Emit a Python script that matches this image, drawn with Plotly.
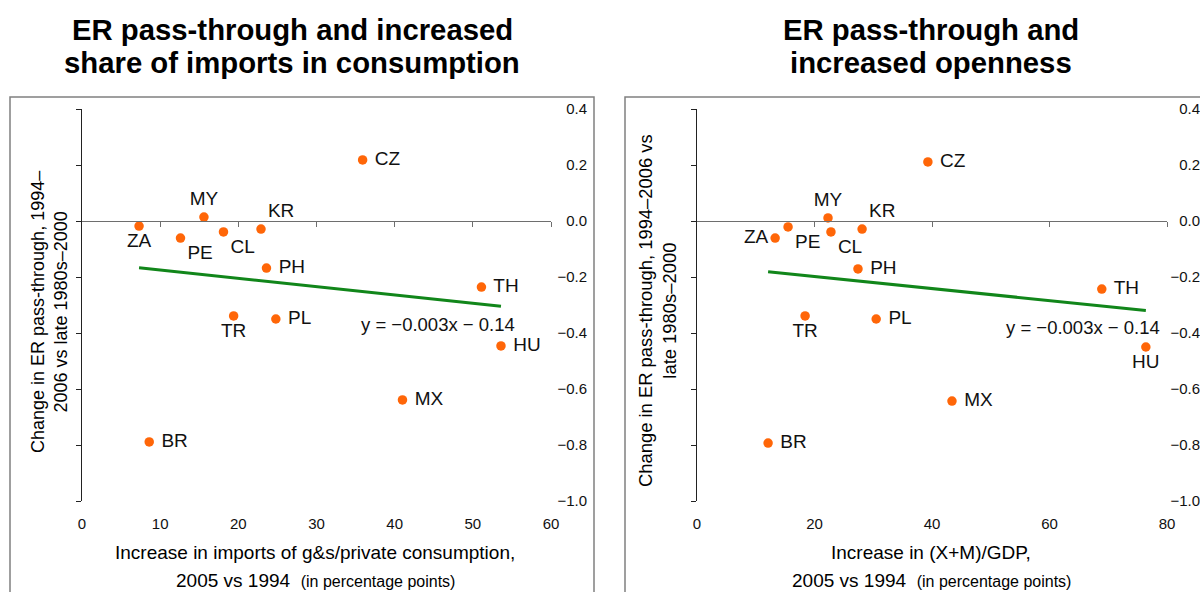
import numpy as np
import plotly.graph_objects as go

# ---------------- data ----------------
countries = ["ZA", "PE", "MY", "CL", "KR", "PH", "CZ", "TR", "PL", "TH", "HU", "MX", "BR"]

# Left panel: increase in imports of g&s / private consumption (pp)
imports_share_incr = [7.3, 12.6, 15.6, 18.1, 22.9, 23.6, 35.9, 19.4, 24.8, 51.1, 53.6, 41.0, 8.6]
passthrough_chg_left = [-0.018, -0.061, 0.014, -0.039, -0.029, -0.168, 0.218,
                        -0.339, -0.350, -0.236, -0.446, -0.639, -0.789]

# Right panel: increase in (X+M)/GDP (pp)
openness_incr = [13.3, 15.5, 22.3, 22.8, 28.1, 27.4, 39.3, 18.4, 30.5, 68.9, 76.4, 43.4, 12.1]
passthrough_chg_right = [-0.061, -0.021, 0.011, -0.039, -0.029, -0.171, 0.211,
                         -0.339, -0.350, -0.243, -0.450, -0.643, -0.793]

x_ticks_left = [0, 10, 20, 30, 40, 50, 60]
x_ticks_right = [0, 20, 40, 60, 80]
y_ticks = [0.4, 0.2, 0.0, -0.2, -0.4, -0.6, -0.8, -1.0]
y_tick_labels = ["0.4", "0.2", "0.0", "\u22120.2", "\u22120.4", "\u22120.6", "\u22120.8", "\u22121.0"]
equation_text = "y = \u22120.003x \u2212 0.14"

# label placement per point
left_textpos = ["bottom center", "bottom right", "top center", "bottom right", "top right",
                "middle right", "middle right", "bottom center", "middle right", "middle right",
                "middle right", "middle right", "middle right"]
right_textpos = ["middle left", "bottom right", "top center", "bottom right", "top right",
                 "middle right", "middle right", "bottom center", "middle right", "middle right",
                 "bottom center", "middle right", "middle right"]

# ---------------- styling ----------------
W, H = 1200, 592
FONT = "Liberation Sans, Arial, sans-serif"
ORANGE = "#ff6608"
GREEN = "#11861a"


def px(x):
    return x / W


def py(y):
    return 1 - y / H


L_dom = [px(82), px(551)]
R_dom = [px(697), px(1167)]
Y_dom = [py(501), py(109)]
Y_range = [-1.0, 0.4]
zero_pos = Y_dom[0] + (0 - Y_range[0]) / (Y_range[1] - Y_range[0]) * (Y_dom[1] - Y_dom[0])


def labels(pos_list):
    return [(" " + c if p.startswith("middle right") else c) for c, p in zip(countries, pos_list)]


fig = go.Figure()

# left scatter
fig.add_trace(go.Scatter(
    x=imports_share_incr, y=passthrough_chg_left, text=labels(left_textpos),
    mode="markers+text", textposition=left_textpos,
    marker=dict(color=ORANGE, size=9.5),
    textfont=dict(family=FONT, size=19, color="#111"),
    xaxis="x", yaxis="y", cliponaxis=False, hoverinfo="skip"))

# left trend (OLS fit on the data)
cL = np.polyfit(imports_share_incr, passthrough_chg_left, 1)
xL = np.array([min(imports_share_incr), max(imports_share_incr)])
fig.add_trace(go.Scatter(x=xL, y=np.polyval(cL, xL), mode="lines",
                         line=dict(color=GREEN, width=3), xaxis="x2", yaxis="y2",
                         hoverinfo="skip"))

# right scatter
fig.add_trace(go.Scatter(
    x=openness_incr, y=passthrough_chg_right, text=labels(right_textpos),
    mode="markers+text", textposition=right_textpos,
    marker=dict(color=ORANGE, size=9.5),
    textfont=dict(family=FONT, size=19, color="#111"),
    xaxis="x3", yaxis="y3", cliponaxis=False, hoverinfo="skip"))

cR = np.polyfit(openness_incr, passthrough_chg_right, 1)
xR = np.array([min(openness_incr), max(openness_incr)])
fig.add_trace(go.Scatter(x=xR, y=np.polyval(cR, xR), mode="lines",
                         line=dict(color=GREEN, width=3), xaxis="x4", yaxis="y4",
                         hoverinfo="skip"))

tickfont = dict(family=FONT, size=15, color="#111")
common_off = dict(showgrid=False, zeroline=False, automargin=False)


def label_xaxis(dom, rng, ticks, anchor):
    return dict(domain=dom, range=rng, anchor=anchor, showline=False, ticks="",
                tickvals=ticks, tickfont=tickfont, ticklabelstandoff=12, **common_off)


def zero_xaxis(dom, rng, ticks, base):
    return dict(domain=dom, range=rng, overlaying=base, anchor="free", position=zero_pos,
                showline=True, linecolor="#6e6e6e", linewidth=1, ticks="outside", ticklen=5,
                tickcolor="#6e6e6e", tickvals=ticks[1:], showticklabels=False, **common_off)


def line_yaxis(anchor):
    return dict(domain=Y_dom, range=Y_range, anchor=anchor, showline=True, linecolor="#222",
                linewidth=1, ticks="outside", ticklen=5, tickcolor="#222", tickvals=y_ticks,
                showticklabels=False, **common_off)


def label_yaxis(base, pos):
    return dict(domain=Y_dom, range=Y_range, overlaying=base, anchor="free", position=pos,
                side="left", showline=False, ticks="", tickvals=y_ticks, ticktext=y_tick_labels,
                tickfont=tickfont, **common_off)


fig.update_layout(
    template="none",
    width=W, height=H, margin=dict(l=0, r=0, t=0, b=0, pad=0),
    paper_bgcolor="white", plot_bgcolor="white", showlegend=False,
    font=dict(family=FONT, color="#111"),
    xaxis=label_xaxis(L_dom, [0, 60], x_ticks_left, "y"),
    xaxis2=zero_xaxis(L_dom, [0, 60], x_ticks_left, "x"),
    yaxis=line_yaxis("x"),
    yaxis2=label_yaxis("y", px(587)),
    xaxis3=label_xaxis(R_dom, [0, 80], x_ticks_right, "y3"),
    xaxis4=zero_xaxis(R_dom, [0, 80], x_ticks_right, "x3"),
    yaxis3=line_yaxis("x3"),
    yaxis4=label_yaxis("y3", 1.0),
)

# panel frames
for x0, x1 in [(10, 594), (625, 1300)]:
    fig.add_shape(type="rect", xref="paper", yref="paper", x0=px(x0), x1=px(x1),
                  y0=-0.2, y1=py(97), line=dict(color="#808080", width=1.5))

ann = []


def text(x, y, s, size, bold=False, angle=0):
    ann.append(dict(x=px(x), y=py(y), xref="paper", yref="paper", text=("<b>%s</b>" % s if bold else s),
                    showarrow=False, xanchor="center", yanchor="middle", textangle=angle,
                    font=dict(family=FONT, size=size, color="black")))


# titles
text(292, 29, "ER pass-through and increased", 29.3, bold=True)
text(292, 63, "share of imports in consumption", 29.3, bold=True)
text(931, 29, "ER pass-through and", 29.3, bold=True)
text(931, 63, "increased openness", 29.3, bold=True)

# x-axis titles
small = "<span style='font-size:16px'>(in percentage points)</span>"
text(315, 552, "Increase in imports of g&s/private consumption,", 19)
text(315, 580, "2005 vs 1994  " + small, 19)
text(931, 552, "Increase in (X+M)/GDP,", 19)
text(931, 580, "2005 vs 1994  " + small, 19)

# y-axis titles
text(50, 312, "Change in ER pass-through, 1994\u2013<br>2006 vs late 1980s\u20132000", 18, angle=-90)
text(657, 311, "Change in ER pass-through, 1994\u20132006 vs<br>late 1980s\u20132000", 18.4, angle=-90)

fig.update_layout(annotations=ann)

# regression equations (placed in data coordinates)
fig.add_annotation(x=45.6, y=-0.371, xref="x", yref="y", text=equation_text, showarrow=False,
                   font=dict(family=FONT, size=18.5, color="#111"))
fig.add_annotation(x=65.7, y=-0.382, xref="x3", yref="y3", text=equation_text, showarrow=False,
                   font=dict(family=FONT, size=18.5, color="#111"))

fig.write_html(
    "out.html",
    config={"displayModeBar": False, "staticPlot": True},
    post_script="document.body.style.margin='0';document.body.style.overflow='hidden';",
)
